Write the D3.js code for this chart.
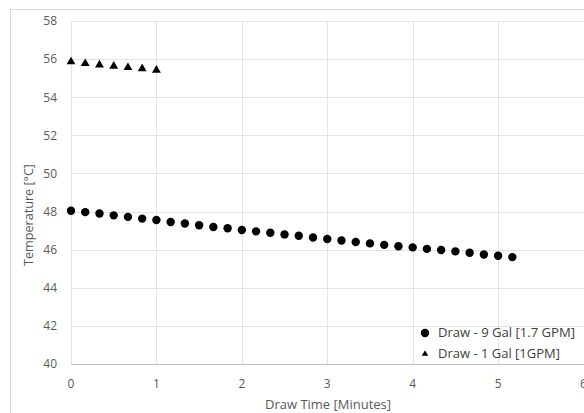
<!DOCTYPE html>
<html>
<head>
<meta charset="utf-8">
<script src="https://cdn.jsdelivr.net/npm/d3@7"></script>
<style>
html,body{margin:0;padding:0;background:#fff;overflow:hidden;}
svg{display:block;font-family:"Open Sans","Liberation Sans",sans-serif;}
</style>
</head>
<body>
<script>
// Data
const xTicks = [0,1,2,3,4,5,6];
const yTicks = [40,42,44,46,48,50,52,54,56,58];
const seriesNames = ["Draw - 9 Gal [1.7 GPM]", "Draw - 1 Gal [1GPM]"];
const time9 = [0,1/6,2/6,3/6,4/6,5/6,1,7/6,8/6,9/6,10/6,11/6,2,13/6,14/6,15/6,16/6,17/6,3,19/6,20/6,21/6,22/6,23/6,4,25/6,26/6,27/6,28/6,29/6,5,31/6];
const temp9 = [48.04,47.97,47.90,47.80,47.72,47.63,47.56,47.45,47.37,47.28,47.19,47.12,47.03,46.96,46.89,46.80,46.73,46.64,46.56,46.48,46.40,46.33,46.25,46.18,46.12,46.04,45.98,45.91,45.84,45.75,45.68,45.61];
const time1 = [0,1/6,2/6,3/6,4/6,5/6,1];
const temp1 = [55.86,55.77,55.70,55.63,55.56,55.50,55.42];

const W = 584, H = 413;
const svg = d3.select("body").append("svg").attr("width", W).attr("height", H);

// chart frame
svg.append("rect").attr("x",10.5).attr("y",9.5).attr("width",700).attr("height",500)
  .attr("fill","#fff").attr("stroke","#d9d9d9").attr("stroke-width",1);

const x = d3.scaleLinear().domain([0,6]).range([71,583.5]);
const y = d3.scaleLinear().domain([40,58]).range([364,21]);

// gridlines
svg.append("g").selectAll("line").data(yTicks.filter(d=>d>40)).join("line")
  .attr("x1",x(0)).attr("x2",x(6)+5).attr("y1",d=>Math.round(y(d))+0.5).attr("y2",d=>Math.round(y(d))+0.5)
  .attr("stroke","#e3e3e3").attr("stroke-width",1);
svg.append("g").selectAll("line").data(xTicks).join("line")
  .attr("y1",y(58)).attr("y2",y(40)).attr("x1",d=>Math.round(x(d))+0.5).attr("x2",d=>Math.round(x(d))+0.5)
  .attr("stroke","#e3e3e3").attr("stroke-width",1);
// bottom axis line
svg.append("line").attr("x1",x(0)).attr("x2",x(6)+5).attr("y1",Math.round(y(40))+0.5).attr("y2",Math.round(y(40))+0.5)
  .attr("stroke","#bfbfbf").attr("stroke-width",1);

// y tick labels
svg.append("g").selectAll("text").data(yTicks).join("text")
  .attr("x",57).attr("y",d=>y(d)).attr("dy","0.36em").attr("text-anchor","end")
  .attr("font-size",12).attr("fill","#595959").text(d=>d);
// x tick labels
svg.append("g").selectAll("text").data(xTicks).join("text")
  .attr("x",d=>x(d)).attr("y",388).attr("text-anchor","middle")
  .attr("font-size",12).attr("fill","#595959").text(d=>d);

// axis titles
svg.append("text").attr("x",265).attr("y",409)
  .attr("font-size",12.5).attr("fill","#595959")
  .attr("textLength",126).attr("lengthAdjust","spacingAndGlyphs").text("Draw Time [Minutes]");
svg.append("text").attr("transform",`translate(33,266) rotate(-90)`)
  .attr("font-size",12.5).attr("fill","#595959")
  .attr("textLength",102).attr("lengthAdjust","spacingAndGlyphs").text("Temperature [°C]");

// series 1: circles
svg.append("g").selectAll("circle").data(time9.map((t,i)=>[t,temp9[i]])).join("circle")
  .attr("cx",d=>x(d[0])).attr("cy",d=>y(d[1])).attr("r",4.2).attr("fill","#000");
// series 2: triangles
const tri = d3.symbol().type(d3.symbolTriangle).size(34);
svg.append("g").selectAll("path").data(time1.map((t,i)=>[t,temp1[i]])).join("path")
  .attr("d",tri).attr("transform",d=>`translate(${x(d[0])},${y(d[1])})`).attr("fill","#000");

// legend
const lg = svg.append("g");
lg.append("circle").attr("cx",425).attr("cy",333).attr("r",4.2).attr("fill","#000");
lg.append("text").attr("x",438).attr("y",333).attr("dy","0.36em").attr("font-size",12).attr("fill","#404040")
  .attr("textLength",137).attr("lengthAdjust","spacingAndGlyphs").text(seriesNames[0]);
lg.append("path").attr("d",d3.symbol().type(d3.symbolTriangle).size(18)).attr("transform","translate(425,354)").attr("fill","#000");
lg.append("text").attr("x",438).attr("y",354).attr("dy","0.36em").attr("font-size",12).attr("fill","#404040")
  .attr("textLength",122).attr("lengthAdjust","spacingAndGlyphs").text(seriesNames[1]);
</script>
</body>
</html>
